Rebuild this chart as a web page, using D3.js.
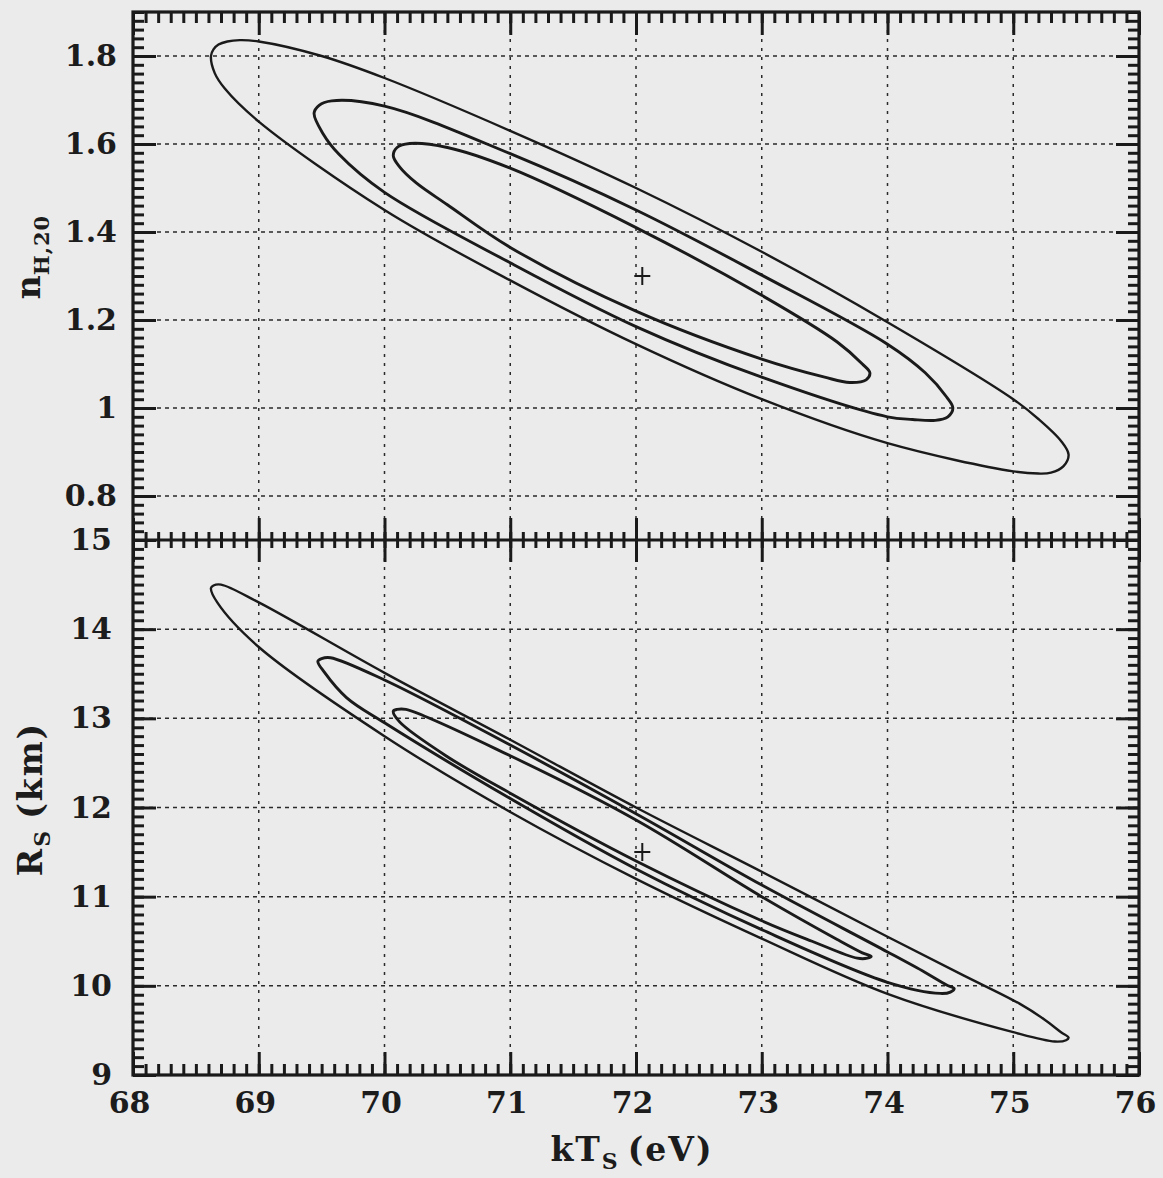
<!DOCTYPE html>
<html>
<head>
<meta charset="utf-8">
<script src="https://cdn.jsdelivr.net/npm/d3@7"></script>
<style>
  body { margin: 0; background: #ebebeb; }
  svg text { font-family: "DejaVu Serif", serif; font-weight: bold; fill: #1c1c1c; }
</style>
</head>
<body>
<div id="my_dataviz"></div>
<script>
// tick labels
var kTTicks = [68, 69, 70, 71, 72, 73, 74, 75, 76];
var nhTicks = [0.8, 1, 1.2, 1.4, 1.6, 1.8];
var rsTicks = [9, 10, 11, 12, 13, 14, 15];

// contours, [kT_S, n_H,20]
var nhOuter = [[68.62,1.80],[68.64,1.815],[68.68,1.826],[68.75,1.833],[68.85,1.836],[69.0,1.833],[69.5,1.80],[70,1.75],[71,1.63],[72,1.50],[73,1.355],[74,1.195],[75,1.02],[75.2,0.975],[75.38,0.925],[75.44,0.894],[75.4,0.868],[75.3,0.853],[75.2,0.851],[75,0.856],[74,0.92],[73,1.02],[72,1.145],[71,1.29],[70,1.45],[69,1.651],[68.73,1.726],[68.65,1.761]];
var nhMid = [[69.44,1.67],[69.48,1.688],[69.58,1.698],[70,1.686],[71,1.578],[72,1.45],[73,1.302],[74,1.145],[74.3,1.08],[74.47,1.025],[74.52,1.0],[74.48,0.98],[74.38,0.972],[74.2,0.974],[74,0.98],[73,1.07],[72,1.185],[71,1.33],[70,1.49],[69.64,1.576],[69.51,1.624]];
var nhInner = [[70.07,1.573],[70.1,1.592],[70.2,1.601],[70.5,1.592],[71,1.545],[72,1.41],[73,1.256],[73.6,1.15],[73.8,1.1],[73.86,1.08],[73.83,1.064],[73.7,1.058],[73.5,1.07],[73,1.111],[72,1.22],[71,1.365],[70.5,1.462],[70.25,1.512],[70.12,1.548]];

// contours, [kT_S, R_S]
var rsOuter = [[68.62,14.46],[68.64,14.49],[68.70,14.50],[69,14.30],[70,13.51],[71,12.76],[72,12.0],[73,11.28],[74,10.55],[74.6,10.12],[75.05,9.8],[75.25,9.62],[75.38,9.48],[75.44,9.42],[75.42,9.39],[75.33,9.375],[75,9.48],[74,9.91],[73,10.53],[72,11.2],[71,11.95],[70,12.8],[69,13.8],[68.67,14.3]];
var rsMid = [[69.47,13.64],[69.5,13.67],[69.57,13.68],[70,13.43],[71,12.70],[72,11.93],[73,11.13],[74,10.38],[74.3,10.15],[74.47,10.01],[74.53,9.97],[74.5,9.93],[74.42,9.915],[74,10.04],[73,10.63],[72,11.31],[71,12.1],[70,12.95],[69.7,13.23],[69.52,13.52]];
var rsInner = [[70.07,13.08],[70.1,13.1],[70.17,13.1],[71,12.58],[72,11.86],[73,11.0],[73.6,10.52],[73.8,10.37],[73.87,10.33],[73.84,10.31],[73.76,10.31],[73.4,10.5],[73,10.73],[72,11.4],[71,12.16],[70.5,12.57],[70.12,12.96]];

var bestNh = [72.05, 1.30];
var bestRs = [72.05, 11.5];

var width = 1163, height = 1178;
var plotLeft = 133, plotRight = 1139, plotTop = 12, plotMid = 540, plotBottom = 1075;
var minorLen = 11, majorLen = 23;

var svg = d3.select("#my_dataviz").append("svg")
  .attr("width", width)
  .attr("height", height);

var x = d3.scaleLinear().domain([68, 76]).range([plotLeft, plotRight]);
var yNh = d3.scaleLinear().domain([0.7, 1.9]).range([plotMid, plotTop]);
var yRs = d3.scaleLinear().domain([9, 15]).range([plotBottom, plotMid]);

var xMinor = d3.range(680, 761).map(function (d) { return d / 10; });
var nhMinor = d3.range(35, 96).map(function (d) { return d / 50; });
var rsMinor = d3.range(90, 151).map(function (d) { return d / 10; });
var xGrid = kTTicks.slice(1, -1);

// grid lines
function grid(yScale, yVals, y0, y1) {
  var g = svg.append("g").attr("stroke", "#2a2a2a").attr("stroke-width", 1.5);
  g.selectAll(".h").data(yVals).enter().append("line")
    .attr("x1", plotLeft).attr("x2", plotRight)
    .attr("y1", function (d) { return yScale(d); })
    .attr("y2", function (d) { return yScale(d); })
    .attr("stroke-dasharray", "4,4");
  g.selectAll(".v").data(xGrid).enter().append("line")
    .attr("x1", function (d) { return x(d); })
    .attr("x2", function (d) { return x(d); })
    .attr("y1", y0).attr("y2", y1)
    .attr("stroke-dasharray", "3,6");
}
grid(yNh, nhTicks, plotTop, plotMid);
grid(yRs, rsTicks.slice(1, -1), plotMid, plotBottom);

// contours
var lineNh = d3.line().x(function (d) { return x(d[0]); }).y(function (d) { return yNh(d[1]); }).curve(d3.curveCatmullRomClosed);
var lineRs = d3.line().x(function (d) { return x(d[0]); }).y(function (d) { return yRs(d[1]); }).curve(d3.curveCatmullRomClosed);

[nhOuter, nhMid, nhInner].forEach(function (c, i) {
  svg.append("path").attr("d", lineNh(c)).attr("fill", "none")
    .attr("stroke", "#1a1a1a").attr("stroke-width", i === 0 ? 2.4 : 2.9);
});
[rsOuter, rsMid, rsInner].forEach(function (c, i) {
  svg.append("path").attr("d", lineRs(c)).attr("fill", "none")
    .attr("stroke", "#1a1a1a").attr("stroke-width", i === 0 ? 2.4 : 2.9);
});

// best fit crosses
[[bestNh, yNh], [bestRs, yRs]].forEach(function (p) {
  var cx = x(p[0][0]), cy = p[1](p[0][1]);
  svg.append("path")
    .attr("d", "M" + (cx - 8) + "," + cy + "H" + (cx + 8) + "M" + cx + "," + (cy - 9) + "V" + (cy + 9))
    .attr("stroke", "#1a1a1a").attr("stroke-width", 2);
});

// axes
function addAxis(axis, tx, ty) {
  var g = svg.append("g").attr("transform", "translate(" + tx + "," + ty + ")").call(axis);
  g.select(".domain").remove();
  g.selectAll(".tick line").attr("stroke", "#1a1a1a").attr("stroke-width", 3);
  g.selectAll("text").attr("font-size", 30).style("font-family", "DejaVu Serif").attr("fill", "#1c1c1c");
  return g;
}
var noLab = function () { return ""; };

// top edge
addAxis(d3.axisTop(x).tickValues(xMinor).tickSize(-minorLen).tickFormat(noLab), 0, plotTop);
addAxis(d3.axisTop(x).tickValues(kTTicks).tickSize(-majorLen).tickFormat(noLab), 0, plotTop);
// middle divider, ticks on both sides
addAxis(d3.axisTop(x).tickValues(xMinor).tickSize(8).tickFormat(noLab), 0, plotMid);
addAxis(d3.axisBottom(x).tickValues(xMinor).tickSize(8).tickFormat(noLab), 0, plotMid);
addAxis(d3.axisTop(x).tickValues(kTTicks).tickSize(22).tickFormat(noLab), 0, plotMid);
addAxis(d3.axisBottom(x).tickValues(kTTicks).tickSize(22).tickFormat(noLab), 0, plotMid);
// bottom edge
addAxis(d3.axisBottom(x).tickValues(xMinor).tickSize(-minorLen).tickFormat(noLab), 0, plotBottom);
addAxis(d3.axisBottom(x).tickValues(kTTicks).tickSize(-majorLen).tickPadding(17).tickFormat(d3.format("d")), 0, plotBottom)
  .selectAll("text").attr("dx", -4);

// left and right edges
addAxis(d3.axisLeft(yNh).tickValues(nhMinor).tickSize(-minorLen).tickFormat(noLab), plotLeft, 0);
addAxis(d3.axisLeft(yNh).tickValues(nhTicks).tickSize(-majorLen).tickPadding(16).tickFormat(function (d) { return d === 1 ? "1" : d3.format(".1f")(d); }), plotLeft, 0);
addAxis(d3.axisRight(yNh).tickValues(nhMinor).tickSize(-minorLen).tickFormat(noLab), plotRight, 0);
addAxis(d3.axisRight(yNh).tickValues(nhTicks).tickSize(-majorLen).tickFormat(noLab), plotRight, 0);

addAxis(d3.axisLeft(yRs).tickValues(rsMinor).tickSize(-minorLen).tickFormat(noLab), plotLeft, 0);
addAxis(d3.axisLeft(yRs).tickValues(rsTicks).tickSize(-majorLen).tickPadding(21).tickFormat(d3.format("d")), plotLeft, 0);
addAxis(d3.axisRight(yRs).tickValues(rsMinor).tickSize(-minorLen).tickFormat(noLab), plotRight, 0);
addAxis(d3.axisRight(yRs).tickValues(rsTicks).tickSize(-majorLen).tickFormat(noLab), plotRight, 0);

// frame and divider
svg.append("rect")
  .attr("x", plotLeft).attr("y", plotTop)
  .attr("width", plotRight - plotLeft).attr("height", plotBottom - plotTop)
  .attr("fill", "none").attr("stroke", "#1a1a1a").attr("stroke-width", 3.2);
svg.append("line")
  .attr("x1", plotLeft).attr("x2", plotRight).attr("y1", plotMid).attr("y2", plotMid)
  .attr("stroke", "#1a1a1a").attr("stroke-width", 3.2);

// axis titles
var xt = svg.append("text").attr("x", 632).attr("y", 1161).attr("text-anchor", "middle")
  .attr("font-size", 33).attr("letter-spacing", 2);
xt.append("tspan").text("kT");
xt.append("tspan").attr("font-size", 22).attr("dy", 8).text("S");
xt.append("tspan").attr("dy", -8).attr("dx", 8).text("(eV)");

var yt1 = svg.append("text").attr("transform", "translate(40,257) rotate(-90)").attr("text-anchor", "middle").attr("font-size", 33);
yt1.append("tspan").text("n");
yt1.append("tspan").attr("font-size", 21).attr("dy", 9).attr("letter-spacing", 1).text("H,20");

var yt2 = svg.append("text").attr("transform", "translate(42,799) rotate(-90)").attr("text-anchor", "middle")
  .attr("font-size", 33).attr("letter-spacing", 2);
yt2.append("tspan").text("R");
yt2.append("tspan").attr("font-size", 22).attr("dy", 8).text("S");
yt2.append("tspan").attr("dy", -8).attr("dx", 10).text("(km)");
</script>
</body>
</html>
